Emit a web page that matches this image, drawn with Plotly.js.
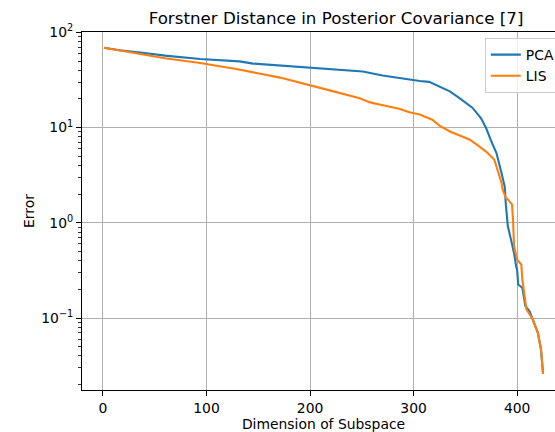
<!DOCTYPE html>
<html>
<head>
<meta charset="utf-8">
<script src="https://cdn.plot.ly/plotly-3.0.1.min.js"></script>
<style>
html, body { margin: 0; padding: 0; overflow: hidden; background: #fff; }
#chart { width: 600px; height: 432px; }
</style>
</head>
<body>
<div id="chart"></div>
<script>
// Data
const pcaX = [1, 16, 36, 60, 94, 132, 145, 171, 200, 219, 251, 270, 296, 306, 315, 325, 335, 344, 357, 365, 370, 375, 380, 385, 388, 389, 391, 394, 397, 399, 400, 401, 405, 408, 412, 415, 420, 423, 424, 425];
const pcaY = [69, 65, 61.5, 57, 52.6, 49.6, 47, 45, 42.3, 40.8, 38.8, 35.3, 31.9, 30.8, 30.2, 27.1, 24, 20.5, 16.1, 12.6, 9.9, 7.2, 5.4, 3.3, 2.4, 1.6, 0.92, 0.67, 0.48, 0.35, 0.32, 0.225, 0.208, 0.133, 0.118, 0.097, 0.07, 0.047, 0.031, 0.026];

const lisX = [1, 20, 36, 60, 94, 130, 171, 200, 219, 248, 258, 267, 286, 296, 306, 318, 325, 335, 354, 362, 370, 378, 381, 385, 386, 389, 391, 395, 396, 397, 400, 404, 405, 406, 409, 415, 420, 423, 424, 425];
const lisY = [69, 63.5, 58.5, 53.5, 47.7, 41, 33.5, 28, 24.6, 20.3, 18.4, 17.5, 15.8, 14.5, 13.7, 12.1, 10.5, 9.1, 7.5, 6.5, 5.6, 4.6, 3.6, 2.6, 2.24, 1.83, 1.76, 1.56, 1.08, 0.57, 0.41, 0.365, 0.254, 0.216, 0.123, 0.097, 0.07, 0.047, 0.031, 0.026];

const seriesNames = ['PCA', 'LIS'];
const xTickVals = [0, 100, 200, 300, 400];
const yTickVals = [0.1, 1, 10, 100];
const yTickText = ['10<sup>\u22121</sup>', '10<sup>0</sup>', '10<sup>1</sup>', '10<sup>2</sup>'];
const yMinorDigits = [2, 3, 4, 5, 6, 7, 8, 9];
const yMinorDecades = [0.01, 0.1, 1, 10];
const titleText = 'Forstner Distance in Posterior Covariance [7]';
const xTitle = 'Dimension of Subspace';
const yTitle = 'Error';

const yMinorVals = [];
yMinorDecades.forEach(d => yMinorDigits.forEach(m => yMinorVals.push(m * d)));

const FONT = 'DejaVu Sans, sans-serif';

const traces = [
  { x: pcaX, y: pcaY, name: seriesNames[0], type: 'scatter', mode: 'lines',
    line: { color: '#1f77b4', width: 2.1 } },
  { x: lisX, y: lisY, name: seriesNames[1], type: 'scatter', mode: 'lines',
    line: { color: '#ff7f0e', width: 2.1 } }
];

const layout = {
  width: 600,
  height: 432,
  margin: { l: 82, r: 34.5, t: 32, b: 42, pad: 0 },
  paper_bgcolor: '#ffffff',
  plot_bgcolor: '#ffffff',
  font: { family: FONT, size: 13.9, color: '#000000' },
  showlegend: true,
  title: {
    text: titleText,
    font: { family: FONT, size: 16.7, color: '#000000' },
    xref: 'paper', x: 0.526, xanchor: 'center',
    yref: 'container', y: 0.958, yanchor: 'middle'
  },
  xaxis: {
    type: 'linear',
    range: [-20.2, 446.2],
    tickmode: 'array',
    tickvals: xTickVals,
    ticks: 'outside', ticklen: 5, tickwidth: 1, tickcolor: '#000',
    showgrid: true, gridcolor: '#b0b0b0', gridwidth: 1,
    zeroline: false,
    showline: true, linecolor: '#000', linewidth: 1, mirror: true,
    tickfont: { family: FONT, size: 13.9, color: '#000' },
    title: { text: xTitle, font: { family: FONT, size: 13.9, color: '#000' }, standoff: 7 },
    automargin: false
  },
  yaxis: {
    type: 'log',
    range: [-1.756, 2.004],
    tickmode: 'array',
    tickvals: yTickVals,
    ticktext: yTickText,
    ticks: 'outside', ticklen: 5, tickwidth: 1, tickcolor: '#000',
    minor: { tickmode: 'array', tickvals: yMinorVals, ticks: 'outside', ticklen: 3, tickwidth: 0.8, tickcolor: '#000', showgrid: false },
    showgrid: true, gridcolor: '#b0b0b0', gridwidth: 1,
    zeroline: false,
    showline: true, linecolor: '#000', linewidth: 1, mirror: true,
    tickfont: { family: FONT, size: 13.9, color: '#000' },
    title: { text: yTitle, font: { family: FONT, size: 13.9, color: '#000' }, standoff: 3 },
    automargin: false
  },
  legend: {
    x: 0.834, xanchor: 'left',
    y: 0.983, yanchor: 'top',
    bgcolor: 'rgba(255,255,255,0.8)',
    bordercolor: '#cccccc', borderwidth: 1,
    font: { family: FONT, size: 13.9, color: '#000' },
    tracegroupgap: 0
  }
};

Plotly.newPlot('chart', traces, layout, { displayModeBar: false, staticPlot: true });
</script>
</body>
</html>
